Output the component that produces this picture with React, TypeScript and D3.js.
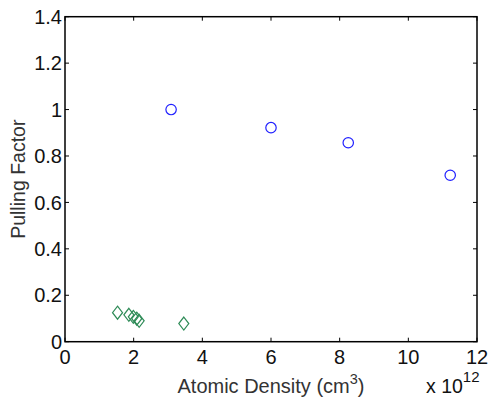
import React from "react";
import * as d3 from "d3";

const circleX = [3.09, 6.0, 8.25, 11.22];
const circleY = [1.0, 0.922, 0.857, 0.717];
const diamondX = [1.53, 1.86, 1.99, 2.09, 2.16, 3.46];
const diamondY = [0.125, 0.116, 0.107, 0.099, 0.09, 0.078];
const xTicks = [0, 2, 4, 6, 8, 10, 12];
const yTicks = [0, 0.2, 0.4, 0.6, 0.8, 1, 1.2, 1.4];
const xLabelText = "Atomic Density (cm";
const yLabelText = "Pulling Factor";

const W = 489;
const H = 401;
const L = 65, T = 16.7, R = 477, B = 341.7;

export default function App() {
  const x = d3.scaleLinear().domain([0, 12]).range([L, R]);
  const y = d3.scaleLinear().domain([0, 1.4]).range([B, T]);
  const font = "'Liberation Sans', Arial, Helvetica, sans-serif";
  const tl = 4;
  const diamond = (cx: number, cy: number) => {
    const p = d3.path();
    p.moveTo(cx, cy - 6.5);
    p.lineTo(cx + 5, cy);
    p.lineTo(cx, cy + 6.5);
    p.lineTo(cx - 5, cy);
    p.closePath();
    return p.toString();
  };
  return (
    <svg width={W} height={H} style={{ position: "absolute", left: 0, top: 0, background: "#fff" }} fontFamily={font}>
      <rect x={0} y={0} width={W} height={H} fill="#fff" />
      {xTicks.map((t) => (
        <g key={"x" + t}>
          <line x1={x(t)} x2={x(t)} y1={B} y2={B - tl} stroke="#000" strokeWidth={1} />
          <line x1={x(t)} x2={x(t)} y1={T} y2={T + tl} stroke="#000" strokeWidth={1} />
          <text x={x(t)} y={363.5} textAnchor="middle" fontSize={20} fill="#111">{t}</text>
        </g>
      ))}
      {yTicks.map((t) => (
        <g key={"y" + t}>
          <line x1={L} x2={L + tl} y1={y(t)} y2={y(t)} stroke="#000" strokeWidth={1} />
          <line x1={R} x2={R - tl} y1={y(t)} y2={y(t)} stroke="#000" strokeWidth={1} />
          <text x={62} y={y(t)} dy="0.36em" textAnchor="end" fontSize={20} fill="#111">{String(t)}</text>
        </g>
      ))}
      <rect x={L} y={T} width={R - L} height={B - T} fill="none" stroke="#000" strokeWidth={1.5} />
      {circleX.map((cx, i) => (
        <circle key={"c" + i} cx={x(cx)} cy={y(circleY[i])} r={5.2} fill="none" stroke="#2020ff" strokeWidth={1.2} />
      ))}
      {diamondX.map((dx, i) => (
        <path key={"d" + i} d={diamond(x(dx), y(diamondY[i]))} fill="none" stroke="#2e8b57" strokeWidth={1.2} />
      ))}
      <text x={271} y={393} textAnchor="middle" fontSize={20} fill="#333">
        {xLabelText}
        <tspan dy={-9} fontSize={14.5}>3</tspan>
        <tspan dy={9}>)</tspan>
      </text>
      <text x={426} y={393} fontSize={19.5} fill="#111">
        x 10
        <tspan dy={-11} fontSize={15}>12</tspan>
      </text>
      <text transform={`translate(25,${(T + B) / 2}) rotate(-90)`} textAnchor="middle" fontSize={19.5} fill="#333">
        {yLabelText}
      </text>
    </svg>
  );
}
